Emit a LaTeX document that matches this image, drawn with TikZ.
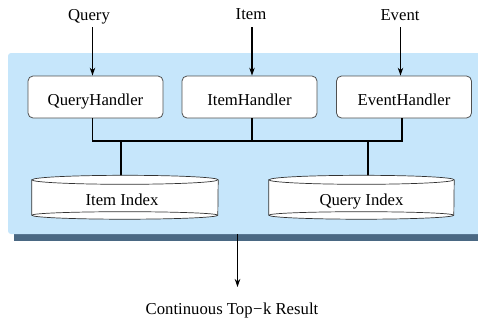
\documentclass[tikz,border=0pt]{standalone}
\usepackage{fontspec}
\setmainfont{Liberation Serif}
\usetikzlibrary{arrows.meta}
\definecolor{panelblue}{HTML}{C6E6FB}
\definecolor{panelshadow}{HTML}{4A6883}
\definecolor{boxline}{HTML}{505050}
\begin{document}
\begin{tikzpicture}[x=1pt,y=-1pt,
  every node/.style={font=\fontsize{16.7}{20}\selectfont},
  handler/.style={draw=boxline,line width=0.8pt,fill=white,rounded corners=5pt,
    minimum width=135pt,minimum height=42pt,inner sep=0pt,
    text height=18pt,text depth=2pt},
  cylbase/.style={minimum width=186pt,minimum height=35pt,inner sep=0pt},
  cylpart/.style={fill=white,draw=black!80,line width=0.7pt},
  arr/.style={line width=1.1pt,-{Stealth[length=8pt,width=5.5pt]}},
  conn/.style={line width=1.1pt}]
\useasboundingbox (0,0) rectangle (478,322);
% panel
\fill[panelshadow] (14,234) rectangle (490,241);
\fill[panelblue,rounded corners=3pt] (8,53) rectangle (495,234);
% input labels
\node[anchor=base] (query) at (89,20) {Query};
\node[anchor=base] (item) at (251,19.5) {Item};
\node[anchor=base] (event) at (400,20.5) {Event};
% handlers
\node[handler] (qh) at (95.5,97) {QueryHandler};
\node[handler] (ih) at (249.5,97) {ItemHandler};
\node[handler] (eh) at (404,97) {EventHandler};
% input arrows
\coordinate (qa) at (92.5,27);
\coordinate (ia) at (252,27);
\coordinate (ea) at (400.5,27);
\draw[arr] (qa) -- (qa |- qh.north);
\draw[arr] (ia) -- (ia |- ih.north);
\draw[arr] (ea) -- (ea |- eh.north);
% cylinder anchors
\node[cylbase] (ii) at (125,197.5) {};
\node[cylbase,minimum width=185pt] (qi) at (361.5,197.5) {};
% bus
\coordinate (b1) at (121,141);
\coordinate (b2) at (368,141);
\coordinate (qd) at (92.5,141);
\coordinate (id) at (252,141);
\coordinate (ed) at (402,141);
\draw[conn] (qd |- qh.south) -- (qd) -- (ed) -- (ed |- eh.south);
\draw[conn] (id |- ih.south) -- (id);
\draw[conn] (b1) -- (b1 |- ii.north);
\draw[conn] (b2) -- (b2 |- qi.north);
% cylinders
\foreach \c/\r in {ii/93,qi/92.5}{
  \draw[cylpart] (\c.north west) -- (\c.south west)
     arc[start angle=180,end angle=360,x radius=\r pt,y radius=4pt]
     -- (\c.north east)
     arc[start angle=0,end angle=180,x radius=\r pt,y radius=4.5pt] -- cycle;
  \draw[draw=black!80,line width=0.7pt] (\c.north west)
     arc[start angle=180,end angle=360,x radius=\r pt,y radius=4.5pt];
  \draw[draw=black!80,line width=0.7pt] (\c.south west)
     arc[start angle=180,end angle=0,x radius=\r pt,y radius=3.5pt];
}
\node[anchor=base] (iit) at (122,205) {Item Index};
\node[anchor=base] (qit) at (361.5,205.5) {Query Index};
% output
\coordinate (out) at (237.5,234);
\coordinate (outend) at (237.5,287);
\draw[arr] (out) -- (outend);
\node[anchor=base] (res) at (232,314) {Continuous Top\kern0.5pt\textminus\kern0.5pt k Result};
\end{tikzpicture}
\end{document}
